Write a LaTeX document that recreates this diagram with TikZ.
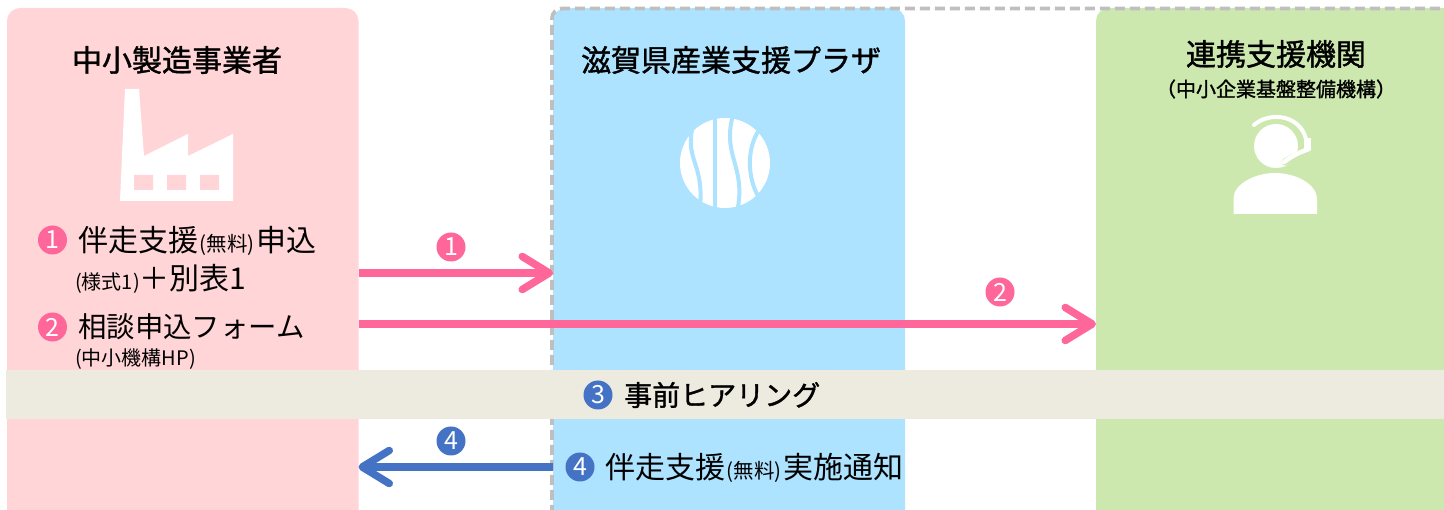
\documentclass[tikz,border=0pt]{standalone}
\usepackage{fontspec}
\setmainfont{Noto Sans CJK JP}
\newfontfamily\jpmed[FakeBold=1.3]{Noto Sans CJK JP}
\usetikzlibrary{arrows.meta,calc}
\definecolor{pinkbg}{HTML}{FFD5D7}
\definecolor{bluebg}{HTML}{ADE3FF}
\definecolor{greenbg}{HTML}{CDE8AF}
\definecolor{bandbg}{HTML}{EDEADF}
\definecolor{pinkline}{HTML}{FF6699}
\definecolor{blueline}{HTML}{4472C4}
\definecolor{dashgray}{HTML}{BFBFBF}
\newcommand{\sz}[1]{\fontsize{#1}{#1}\selectfont}
\newcommand{\sm}[1]{{\sz{20.5}\kern1.5pt(#1)\kern1.5pt}}
\tikzset{
  x=1pt,y=-1pt,
  panel/.style={anchor=north west,inner sep=0pt,outer sep=0pt,rounded corners=13pt,minimum height=530pt},
  title/.style={inner sep=0pt,font=\jpmed\sz{30}},
  body/.style={anchor=west,inner sep=0pt,font=\sz{30}},
  small/.style={anchor=west,inner sep=0pt,font=\sz{20}},
  numdot/.style={circle,inner sep=0pt,minimum size=29pt,text=white,font=\sz{25}},
  pinkdot/.style={numdot,fill=pinkline},
  bluedot/.style={numdot,fill=blueline,minimum size=29pt},
  flow/.style={line width=7.5pt,-{Straight Barb[length=27pt,width=33pt,round,line width=7.5pt]}},
  icon/.style={fill=white,draw=none},
}
\begin{document}
\begin{tikzpicture}
\useasboundingbox (0,0) rectangle (1444,510);
\clip (0,0) rectangle (1444,510);
% panels
\node[panel,fill=pinkbg,minimum width=351.5pt] (maker) at (7,8) {};
\node[panel,fill=bluebg,minimum width=352pt] (plaza) at (553,8) {};
\node[panel,fill=greenbg,minimum width=365pt] (agency) at (1096,8) {};
% dashed group outline
\draw[dashgray,line width=3.8pt,dash pattern=on 10pt off 5pt,rounded corners=10pt]
  (552,530) -- (552,8.5) -- (1470,8.5);
% band
\node[anchor=north west,inner sep=0pt,outer sep=0pt,fill=bandbg,minimum width=1440pt,minimum height=49pt] (band) at (6,370) {};
% titles
\node[title] (t1) at (177,60) {中小製造事業者};
\node[title] (t2) at (731,60) {滋賀県産業支援プラザ};
\node[title] (t3) at (1276,54) {連携支援機関};
\node[inner sep=0pt,font=\jpmed\sz{20}] (t3s) at (1276,89) {（中小企業基盤整備機構）};
% factory icon
\fill[icon] (125,89) -- (139,89) -- (144,156) -- (188,134) -- (188,156) -- (233,134) -- (233,201) -- (120,201) -- cycle;
\fill[pinkbg] (134,175) rectangle (153,190) (167,175) rectangle (186,190) (200,175) rectangle (219,190);
% plaza logo
\fill[icon] (725,163) circle (45);
\draw[bluebg,line width=4pt] (715,115) -- (715,211);
\draw[bluebg,line width=4pt] (692,130) .. controls (686,160) and (704,165) .. (700,207);
\draw[bluebg,line width=4pt] (733,115) .. controls (722,155) and (745,165) .. (738,207);
\draw[bluebg,line width=4pt] (759,130) .. controls (746,150) and (748,178) .. (758,196);
% headset person
\fill[icon] (1276,146) circle (22);
\draw[greenbg,line width=7pt,line cap=round] (1312,149) .. controls (1302,153) and (1295,156) .. (1285,162);
\draw[white,line width=4.5pt,line cap=round] (1309,149) .. controls (1300,152) and (1292,156) .. (1284,162);
\draw[white,line width=4pt,line cap=round] (1254,125) .. controls (1270,111) and (1300,115) .. (1306,139);
\fill[icon] (1304,138) rectangle (1311,150);
\fill[icon] (1233.5,214) -- (1233.5,198) .. controls (1234,184) and (1255,173) .. (1275,173) .. controls (1296,173) and (1316,184) .. (1317,198) -- (1317,214) -- cycle;
% left panel text
\node[pinkdot] (n1) at (52.5,240) {1};
\node[body] (l1) at (78,241) {伴走支援\sm{無料}申込};
\node[small] (l1b) at (75,279) {(様式1)\sz{30}＋別表1};
\node[pinkdot] (n2) at (52.5,327) {2};
\node[body,font=\sz{28.4}] (l2) at (78,327) {相談申込フォーム};
\node[small] (l2b) at (75,359) {(中小機構HP)};
% band text
\node[bluedot] (n3) at (598,395) {3};
\node[body,font=\jpmed\sz{28}] (bt) at (624,395) {事前ヒアリング};
% plaza text
\node[bluedot] (n4) at (580,467) {4};
\node[body] (p4) at (605,468) {伴走支援\sm{無料}実施通知};
% connectors
\draw[flow,pinkline] (maker.east |- 0,273) -- (plaza.west |- 0,273);
\draw[flow,pinkline] (maker.east |- 0,324) -- (agency.west |- 0,324);
\draw[flow,blueline] (plaza.west |- 0,467) -- (maker.east |- 0,467);
% connector labels
\node[pinkdot] (a1) at (451,247) {1};
\node[pinkdot] (a2) at (1000,292) {2};
\node[bluedot] (a4) at (451,441) {4};
\end{tikzpicture}
\end{document}
